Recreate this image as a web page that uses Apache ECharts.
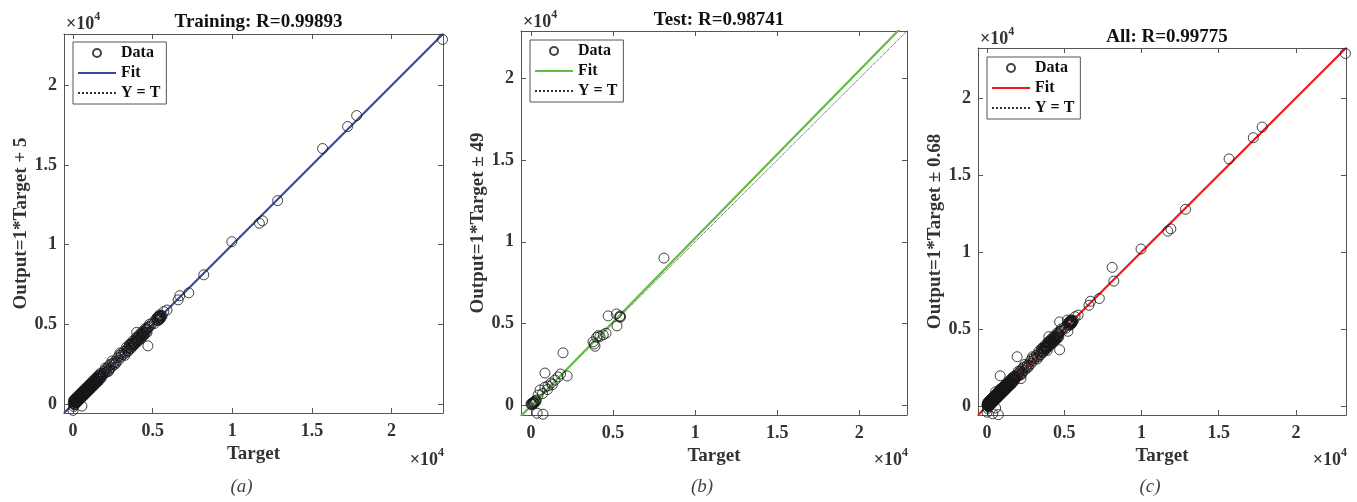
<!DOCTYPE html>
<html>
<head>
<meta charset="utf-8">
<script src="https://cdn.jsdelivr.net/npm/echarts@6/dist/echarts.min.js"></script>
<style>
html, body { margin: 0; padding: 0; background: #fff; }
#chart { width: 1357px; height: 502px; }
</style>
</head>
<body>
<div id="chart"></div>
<script>
// training set (target, network output)
const trainTarget = [0, 20, 40, 50, 70, 80, 100, 120, 140, 160,
  180, 200, 220, 250, 270, 300, 320, 350, 380, 400,
  420, 450, 480, 500, 520, 550, 560, 580, 600, 630,
  660, 700, 720, 750, 780, 800, 840, 870, 900, 930,
  960, 1000, 1040, 1080, 1120, 1160, 1200, 1250, 1300, 1340,
  1380, 1420, 1460, 1500, 1550, 1600, 1650, 1700, 1750, 1800,
  1850, 1900, 1950, 2000, 2050, 2100, 2150, 2200, 2250, 2300,
  2350, 2400, 2500, 2550, 2600, 2700, 2800, 2850, 2900, 3000,
  3050, 3150, 3200, 3300, 3400, 3450, 3500, 3600, 3650, 3700,
  3750, 3800, 3850, 3900, 3950, 4000, 4000, 4050, 4100, 4150,
  4200, 4250, 4300, 4350, 4400, 4450, 4500, 4550, 4600, 4650,
  4700, 4750, 4800, 4850, 5000, 5100, 5200, 5300, 5350, 5400,
  5450, 5500, 5550, 5600, 5700, 5900, 6600, 6700, 7270, 8210,
  9970, 11700, 11900, 12850, 15670, 17240, 17810, 23200,
  30, 90, 150, 210, 260, 330, 390, 440, 510, 570,
  640, 690, 760, 820, 880, 950, 1010, 1090, 1150, 1230,
  1310, 1400, 1480, 1570, 1660, 1780, 2020, 2240, 2450, 2650,
  2950, 3250, 3550, 3680, 3820, 3980, 4120, 4280, 4420, 4580,
  4680, 5380, 5420, 5480,
  60, 110, 170, 230, 290, 350, 410, 470, 530, 590,
  650, 710, 770, 830, 890, 950, 1010, 1070, 1130, 1190,
  1250, 1310, 1370, 1430, 1490, 1550, 1610, 1670, 1730,
  3350, 3450, 3550, 3650, 3750, 3850, 3950, 4050, 4150, 4250,
  4350, 4450, 4550, 4650, 5320, 5360, 5440, 5500, 5260];
const trainOutput = [-400, 40, -150, 120, 60, 200, 10, 150, 260, 90,
  220, 330, 140, 280, 200, 360, 250, 420, 310, 460,
  380, 520, 400, 590, 480, 610, -130, 520, 680, 560,
  740, 650, 810, 700, 850, 760, 900, 820, 960, 880,
  1040, 950, 1100, 1030, 1180, 1090, 1260, 1200, 1350, 1280,
  1430, 1370, 1520, 1450, 1600, 1550, 1700, 1640, 1800, 1760,
  1900, 1850, 2050, 1940, 2150, 2000, 2250, 2100, 2400, 2200,
  2500, 2300, 2550, 2450, 2650, 2600, 2900, 2750, 3050, 2950,
  3150, 3100, 3300, 3200, 3450, 3350, 3550, 3500, 3700, 3620,
  3800, 3720, 3900, 3850, 4000, 3950, 4500, 4150, 4050, 4250,
  4150, 4300, 4200, 4450, 4350, 4500, 4450, 4600, 4500, 4700,
  3650, 4850, 5000, 4900, 5100, 5050, 5300, 5250, 5450, 5350,
  5500, 5420, 5500, 5550, 5800, 5900, 6540, 6800, 6980, 8110,
  10190, 11350, 11500, 12770, 16040, 17420, 18110, 22890,
  180, -50, 300, 80, 420, 200, 550, 330, 640, 450,
  790, 560, 900, 700, 1020, 820, 1160, 950, 1290, 1100,
  1420, 1280, 1600, 1420, 1800, 1650, 2250, 2050, 2700, 2500,
  3200, 3050, 3700, 3800, 3750, 4150, 4000, 4400, 4300, 4650,
  4800, 5500, 5300, 5550,
  260, -40, 370, 80, 490, 200, 610, 320, 730, 440,
  850, 560, 970, 680, 1090, 800, 1210, 920, 1330, 1040,
  1450, 1160, 1570, 1280, 1690, 1400, 1810, 1520, 1930,
  3550, 3300, 3750, 3500, 3950, 3700, 4150, 3900, 4350, 4100,
  4550, 4300, 4750, 4500, 5450, 5250, 5600, 5380, 5400];

// test set
const testTarget = [0, 30, 60, 100, 120, 150, 180, 200, 250, 280,
  330, 370, 430, 550, 730, 700, 850, 850, 1000, 1040,
  1220, 1300, 1460, 1650, 1800, 1950, 2200, 3780, 3850, 3900,
  4000, 4100, 4200, 4400, 4570, 4700, 5200, 5240, 5400, 5430,
  5450, 8100];
const testOutput = [80, 20, 90, 40, 150, 110, 200, 130, 260, 190,
  300, -500, 610, 920, -560, 700, 1100, 1960, 950, 1170,
  1350, 1250, 1530, 1720, 1900, 3200, 1780, 3870, 3740, 3600,
  4150, 4250, 4200, 4300, 4400, 5460, 5580, 4850, 5400, 5460,
  5380, 9000];

const panelTitles = ['Training: R=0.99893', 'Test: R=0.98741', 'All: R=0.99775'];
const yLabels = ['Output=1*Target + 5', 'Output=1*Target \u00b1 49', 'Output=1*Target \u00b1 0.68'];
const subLabels = ['(a)', '(b)', '(c)'];
const fitSlope = [1, 1.027, 1];
const fitOffset = [5, -49, 0.68];
const tickValues = [0, 5000, 10000, 15000, 20000];
const axisLimits = [[-565, 23230], [-610, 22910], [-583, 23240]];

const fitColors = ['#2f4c9f', '#62bd45', '#f0191e'];
const grids = [
  { left: 64, top: 34, width: 379, height: 379 },
  { left: 521, top: 31, width: 386, height: 384 },
  { left: 978, top: 48, width: 368, height: 367 }
];
const legendPos = [[73, 42], [530, 40], [987, 57]];
const titleTop = [8, 6, 23];
const expTop = [11, 9, 26];

const serif = "'Liberation Serif', 'Times New Roman', serif";
const axisColor = '#555';

function pairs(t, y) { return t.map((v, k) => [v, y[k]]); }
const panelData = [
  pairs(trainTarget, trainOutput),
  pairs(testTarget, testOutput),
  pairs(trainTarget.concat(testTarget), trainOutput.concat(testOutput))
];

const chart = echarts.init(document.getElementById('chart'), null, { renderer: 'canvas' });

const xAxes = [], yAxes = [], series = [], titles = [], legends = [];
const hidden = { opacity: 0 };

grids.forEach((g, i) => {
  const lim = axisLimits[i];
  const sp = ' '.repeat(i);
  ['bottom', 'top'].forEach(pos => {
    xAxes.push({
      type: 'value', gridIndex: i, position: pos, min: lim[0], max: lim[1],
      axisLine: { show: true, onZero: false, lineStyle: { color: axisColor, width: 1 } },
      axisTick: { show: true, inside: true, length: 5, customValues: tickValues, lineStyle: { color: axisColor } },
      axisLabel: {
        show: pos === 'bottom', customValues: tickValues, margin: 9,
        formatter: v => String(v / 10000),
        fontFamily: serif, fontWeight: 'bold', fontSize: 18, color: '#333'
      },
      splitLine: { show: false },
      name: pos === 'bottom' ? 'Target' : '',
      nameLocation: 'middle', nameGap: 31,
      nameTextStyle: { fontFamily: serif, fontWeight: 'bold', fontSize: 19, color: '#333' }
    });
  });
  ['left', 'right'].forEach(pos => {
    yAxes.push({
      type: 'value', gridIndex: i, position: pos, min: lim[0], max: lim[1],
      axisLine: { show: true, onZero: false, lineStyle: { color: axisColor, width: 1 } },
      axisTick: { show: true, inside: true, length: 5, customValues: tickValues, lineStyle: { color: axisColor } },
      axisLabel: {
        show: pos === 'left', customValues: tickValues, margin: 7,
        formatter: v => String(v / 10000),
        fontFamily: serif, fontWeight: 'bold', fontSize: 18, color: '#333'
      },
      splitLine: { show: false },
      name: pos === 'left' ? yLabels[i] : '',
      nameLocation: 'middle', nameGap: 31,
      nameTextStyle: { fontFamily: serif, fontWeight: 'bold', fontSize: 19, color: '#333' }
    });
  });

  const a = fitSlope[i], b = fitOffset[i];
  series.push({
    name: 'Y = T' + sp, type: 'line', xAxisIndex: 2 * i, yAxisIndex: 2 * i,
    data: [[lim[0], lim[0]], [lim[1], lim[1]]],
    symbol: 'none', z: 2, silent: true,
    lineStyle: { color: '#333', width: 1, type: 'dotted' }, itemStyle: { color: '#333' }
  });
  series.push({
    name: 'Fit' + sp, type: 'line', xAxisIndex: 2 * i, yAxisIndex: 2 * i,
    data: [[lim[0], a * lim[0] + b], [lim[1], a * lim[1] + b]],
    symbol: 'none', z: 3, silent: true,
    lineStyle: { color: fitColors[i], width: 2.2 }, itemStyle: { color: fitColors[i] }
  });
  series.push({
    name: 'Data' + sp, type: 'scatter', xAxisIndex: 2 * i, yAxisIndex: 2 * i,
    data: panelData[i], symbol: 'circle', symbolSize: 10, z: 4, silent: true,
    itemStyle: { color: 'rgba(0,0,0,0)', borderColor: '#151515', borderWidth: 1 }
  });

  legends.push({
    left: legendPos[i][0], top: legendPos[i][1], orient: 'vertical',
    data: [
      { name: 'Data' + sp },
      { name: 'Fit' + sp, itemStyle: hidden },
      { name: 'Y = T' + sp, itemStyle: hidden }
    ],
    itemWidth: 38, itemHeight: 8, itemGap: 4,
    padding: [3, 6, 3, 4], borderColor: axisColor, borderWidth: 1, backgroundColor: '#fff',
    selectedMode: false, formatter: n => n.trim(),
    textStyle: { fontFamily: serif, fontWeight: 'bold', fontSize: 16, color: '#111' }
  });

  titles.push({
    text: panelTitles[i], left: g.left + g.width / 2, top: titleTop[i], textAlign: 'center',
    textStyle: { fontFamily: serif, fontWeight: 'bold', fontSize: 19, color: '#111' }
  });
  const expRich = {
    m: { fontFamily: serif, fontSize: 18, color: '#333', verticalAlign: 'bottom', lineHeight: 22 },
    s: { fontFamily: serif, fontSize: 12, color: '#333', verticalAlign: 'top', lineHeight: 22 }
  };
  titles.push({
    text: '{m|\u00d710}{s|4}', left: g.left + 2, top: expTop[i], padding: 0,
    textStyle: { rich: expRich }
  });
  titles.push({
    text: '{m|\u00d710}{s|4}', right: 1357 - (g.left + g.width) - 1, top: 447, padding: 0,
    textStyle: { rich: expRich }
  });
  titles.push({
    text: subLabels[i], left: g.left + g.width / 2 - 12, top: 477, textAlign: 'center', padding: 0,
    textStyle: { fontFamily: serif, fontStyle: 'italic', fontWeight: 'normal', fontSize: 19, color: '#444' }
  });
});

chart.setOption({
  animation: false,
  backgroundColor: '#fff',
  title: titles,
  legend: legends,
  grid: grids,
  xAxis: xAxes,
  yAxis: yAxes,
  series: series
});
</script>
</body>
</html>
